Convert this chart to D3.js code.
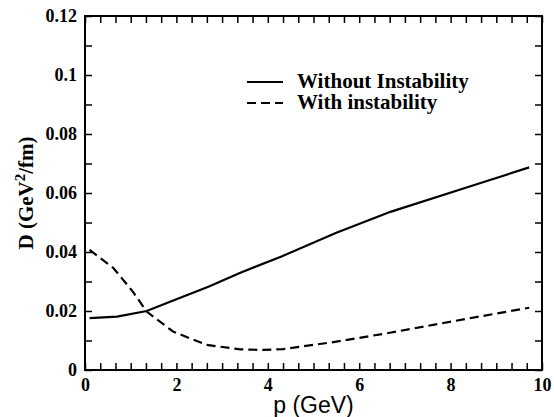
<!DOCTYPE html>
<html>
<head>
<meta charset="utf-8">
<script src="https://cdn.jsdelivr.net/npm/d3@7"></script>
<style>
  body { margin: 0; background: #fff; }
  .lbl text { font-family: "Liberation Serif", "DejaVu Serif", serif; font-weight: bold; font-size: 18px; fill: #000; }
</style>
</head>
<body>
<div id="chart"></div>
<script>
// values
const pSolid = [0.1, 0.7, 1.35, 2.0, 2.7, 3.4, 4.3, 5.5, 6.7, 8.4, 9.72];
const dSolid = [0.0176, 0.0181, 0.0200, 0.0240, 0.0282, 0.0330, 0.0385, 0.0465, 0.0537, 0.0621, 0.0687];

const pDashed = [0.1, 0.62, 1.05, 1.35, 1.93, 2.66, 3.4, 3.9, 4.34, 5.5, 6.7, 8.4, 9.72];
const dDashed = [0.0407, 0.0346, 0.0265, 0.0198, 0.0130, 0.0085, 0.0070, 0.0068, 0.0071, 0.0096, 0.0127, 0.0175, 0.0211];

const xTicks = [0, 2, 4, 6, 8, 10];
const yTicks = [0, 0.02, 0.04, 0.06, 0.08, 0.1, 0.12];
const legendNames = ["Without Instability", "With instability"];

const W = 554, H = 417;
const margin = { top: 16, right: 12, bottom: 47, left: 85 };
const width = W - margin.left - margin.right;
const height = H - margin.top - margin.bottom;

const svg = d3.select("#chart").append("svg")
    .attr("width", W)
    .attr("height", H)
    .append("g")
    .attr("transform", "translate(" + margin.left + "," + margin.top + ")");

const x = d3.scaleLinear().domain([0, 10]).range([0, width]);
const y = d3.scaleLinear().domain([0, 0.12]).range([height, 0]);

const minorX = d3.range(0, 31).map(i => i / 3);
const minorY = d3.range(0, 13).map(i => i / 100);
const tick = 7;

// inward ticks on all four sides
function ticks(g) {
    g.selectAll(".domain").remove();
    g.selectAll("line").attr("stroke", "#000").attr("stroke-width", 1.5);
    g.selectAll("text").remove();
}
svg.append("g").attr("transform", "translate(0," + height + ")")
    .call(d3.axisBottom(x).tickValues(minorX).tickSize(-tick)).call(ticks);
svg.append("g")
    .call(d3.axisTop(x).tickValues(minorX).tickSize(-tick)).call(ticks);
svg.append("g")
    .call(d3.axisLeft(y).tickValues(minorY).tickSize(-tick)).call(ticks);
svg.append("g").attr("transform", "translate(" + width + ",0)")
    .call(d3.axisRight(y).tickValues(minorY).tickSize(-tick)).call(ticks);

// tick labels
const xl = svg.append("g").attr("class", "lbl").attr("transform", "translate(0," + height + ")")
    .call(d3.axisBottom(x).tickValues(xTicks).tickSize(0).tickPadding(8).tickFormat(d3.format("d")));
xl.select(".domain").remove();
const yl = svg.append("g").attr("class", "lbl")
    .call(d3.axisLeft(y).tickValues(yTicks).tickSize(0).tickPadding(8)
        .tickFormat(d => d === 0 ? "0" : String(+d.toFixed(2))));
yl.select(".domain").remove();

// frame
svg.append("rect")
    .attr("width", width).attr("height", height)
    .attr("fill", "none").attr("stroke", "#000").attr("stroke-width", 2);

const line = d3.line().x(d => x(d[0])).y(d => y(d[1]));

svg.append("path")
    .datum(d3.zip(pSolid, dSolid))
    .attr("fill", "none").attr("stroke", "#000").attr("stroke-width", 2.2)
    .attr("d", line);

svg.append("path")
    .datum(d3.zip(pDashed, dDashed))
    .attr("fill", "none").attr("stroke", "#000").attr("stroke-width", 2.2)
    .attr("stroke-dasharray", "9,5")
    .attr("d", line);

// legend
const lg = svg.append("g").attr("transform", "translate(162,66)");
legendNames.forEach((name, i) => {
    lg.append("line")
        .attr("x1", 0).attr("x2", 36)
        .attr("y1", i * 21).attr("y2", i * 21)
        .attr("stroke", "#000").attr("stroke-width", 2.2)
        .attr("stroke-dasharray", i === 1 ? "9,5" : null);
    lg.append("text")
        .attr("x", 50).attr("y", i * 21 + 6)
        .style("font-family", "'Liberation Serif', serif")
        .style("font-weight", "bold")
        .style("font-size", "21px")
        .text(name);
});

// axis titles
svg.append("text")
    .attr("x", width / 2).attr("y", height + 43)
    .attr("text-anchor", "middle")
    .style("font-family", "'Liberation Sans', Arial, sans-serif")
    .style("font-size", "23px")
    .text("p (GeV)");

const yt = svg.append("text")
    .attr("transform", "translate(-52," + height / 2 + ") rotate(-90)")
    .attr("text-anchor", "middle")
    .style("font-family", "'Liberation Serif', serif")
    .style("font-weight", "bold")
    .style("font-size", "21px");
yt.append("tspan").text("D (GeV");
yt.append("tspan").attr("dy", -8).style("font-size", "15px").text("2");
yt.append("tspan").attr("dy", 8).text("/fm)");
</script>
</body>
</html>
